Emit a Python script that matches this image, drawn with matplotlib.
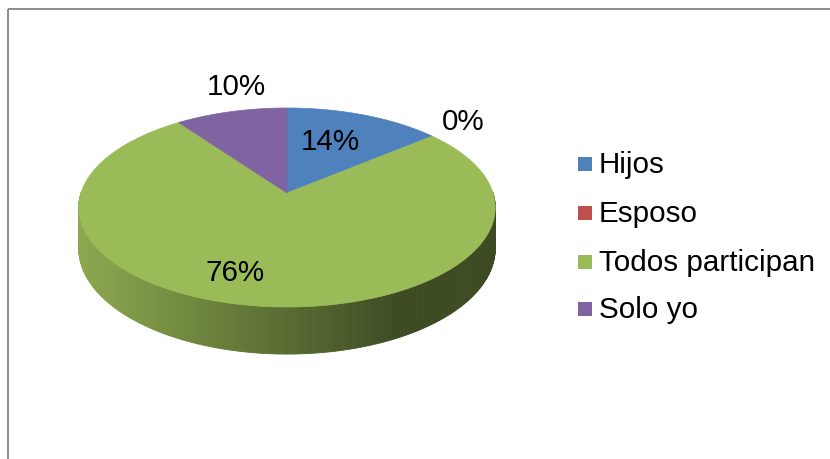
import numpy as np
import matplotlib.pyplot as plt
from matplotlib.colors import to_rgb
from matplotlib.patches import Polygon, Rectangle

plt.rcParams['font.family'] = ['Liberation Sans', 'DejaVu Sans']

categories = ["Hijos", "Esposo", "Todos participan", "Solo yo"]
values = [14, 0, 76, 10]
labels = ["14%", "0%", "76%", "10%"]
colors = ["#4f81bd", "#c0504d", "#9bbb59", "#8064a2"]

# pie geometry in pixel space (y grows downward)
cx, cy = 287, 193
rx, ry = 206, 97.4
k = 0.1457      # perspective: far side shrinks
depth = 40.2

def top_pt(a):
    u, v = np.cos(a), np.sin(a)
    s = 1.0 / (1.0 + k * v)
    return cx + rx * u * s, cy - ry * v * s

def bot_pt(a):
    v = np.sin(a)
    s = 1.0 / (1.0 + k * v)
    x, y = top_pt(a)
    return x, y + depth * s

fig = plt.figure(figsize=(8.3, 4.59), dpi=100)
ax = fig.add_axes([0, 0, 1, 1])
ax.set_xlim(0, 830)
ax.set_ylim(459, 0)
ax.axis("off")

# chart frame
ax.add_patch(Rectangle((7.5, 8.5), 830, 460, fill=False, edgecolor="#868686", lw=1.3))

# slice angles, clockwise from 12 o'clock
total = sum(values)
starts = []
acc = 0.0
for v in values:
    starts.append(acc)
    acc += v
ang = lambda f: np.pi / 2 - 2 * np.pi * f / total

# side wall (front half), shaded left to right
side_light = np.array([0x8c, 0xa8, 0x4e]) / 255
side_dark = np.array([0x3d, 0x4b, 0x23]) / 255
green = np.array(to_rgb("#9bbb59"))
for i, v in enumerate(values):
    if v == 0:
        continue
    a0, a1 = ang(starts[i]), ang(starts[i] + v)
    seg = np.linspace(a1, a0, 400)
    seg = seg[np.sin(seg) <= 0.02]
    if len(seg) < 2:
        continue
    base = np.array(to_rgb(colors[i]))
    for j in range(len(seg) - 1):
        p0, p1 = seg[j], seg[j + 1]
        t0 = top_pt(p0); t1 = top_pt(p1)
        b0 = bot_pt(p0); b1 = bot_pt(p1)
        xm = (t0[0] + t1[0]) / 2
        t = np.clip((xm - 80) / 320, 0, 1)
        c = side_light + (side_dark - side_light) * t
        c = np.clip(c * base / green, 0, 1)
        ax.add_patch(Polygon([t0, t1, b1, b0], closed=True, facecolor=c,
                             edgecolor=c, lw=0.6))

# top face
for i, v in enumerate(values):
    if v == 0:
        continue
    a0, a1 = ang(starts[i]), ang(starts[i] + v)
    arc = np.linspace(a0, a1, 300)
    pts = [(cx, cy)] + [top_pt(a) for a in arc]
    ax.add_patch(Polygon(pts, closed=True, facecolor=colors[i],
                         edgecolor=colors[i], lw=0.5))

# data labels
label_pos = [(330, 142), (463, 122), (235, 273), (236, 87)]
for (x, y), t in zip(label_pos, labels):
    ax.text(x, y, t, fontsize=21.3, ha="center", va="center", color="black")

# legend
leg_y = [164, 213, 262, 309]
for y, name, c in zip(leg_y, categories, colors):
    ax.add_patch(Rectangle((578, y - 7), 14, 14, facecolor=c, edgecolor="none"))
    ax.text(599, y + 1, name, fontsize=21.3, ha="left", va="center", color="black")

fig.savefig("out.png", dpi=100)
